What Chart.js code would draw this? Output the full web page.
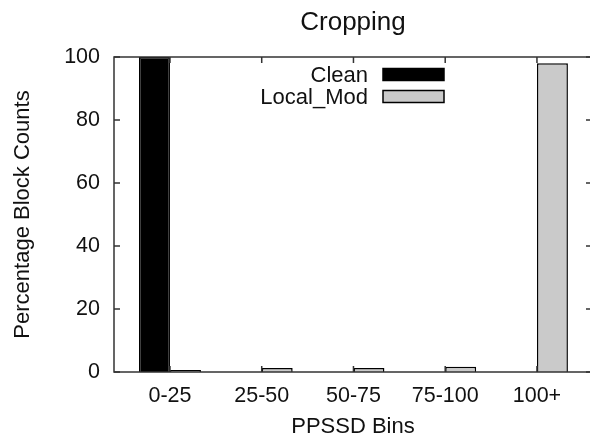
<!DOCTYPE html>
<html><head><meta charset="utf-8">
<script src="https://cdn.jsdelivr.net/npm/chart.js@4"></script>
<style>html,body{margin:0;padding:0;overflow:hidden;background:#fff}canvas{display:block}</style>
</head><body>
<canvas id="c" width="600" height="440"></canvas>
<script>
const categories = ['0-25', '25-50', '50-75', '75-100', '100+'];
const cleanValues = [100, 0, 0, 0, 0];
const localModValues = [0.6, 1.3, 1.3, 1.7, 98];
const yTicks = [0, 20, 40, 60, 80, 100];
const seriesNames = ['Clean', 'Local_Mod'];
const chartTitle = 'Cropping';
const xTitle = 'PPSSD Bins';
const yTitle = 'Percentage Block Counts';

const FONT = "'Liberation Sans', Arial, sans-serif";
const TEXT = '#111';
const F = { family: FONT, size: 22, lineHeight: 1.2 };
const FT = { family: FONT, size: 21.5, lineHeight: 1.2 };

const frame = {
  id: 'frame',
  afterDatasetsDraw(chart) {
    const { ctx, chartArea: a, scales: { x, y } } = chart;
    ctx.save();
    // title centred over the plot box
    ctx.fillStyle = TEXT;
    ctx.font = '26px ' + FONT;
    ctx.textAlign = 'center';
    ctx.textBaseline = 'middle';
    ctx.fillText(chartTitle, (a.left + a.right) / 2, 23);
    // border and inward tics (mirrored)
    ctx.strokeStyle = '#333';
    ctx.lineWidth = 1.5;
    ctx.strokeRect(a.left, a.top, a.right - a.left, a.bottom - a.top);
    ctx.beginPath();
    const t = 6;
    y.ticks.forEach(tk => {
      const py = y.getPixelForValue(tk.value);
      ctx.moveTo(a.left, py); ctx.lineTo(a.left + t, py);
      ctx.moveTo(a.right, py); ctx.lineTo(a.right - t, py);
    });
    x.ticks.forEach(tk => {
      const px = x.getPixelForValue(tk.value);
      ctx.moveTo(px, a.bottom); ctx.lineTo(px, a.bottom - t);
      ctx.moveTo(px, a.top); ctx.lineTo(px, a.top + t);
    });
    ctx.stroke();
    // gnuplot-style key: text right-aligned, sample box to the right
    ctx.font = '22px ' + FONT;
    ctx.textAlign = 'right';
    ctx.textBaseline = 'middle';
    chart.data.datasets.forEach((ds, i) => {
      const cy = a.top + 17.5 + i * 22;
      ctx.fillStyle = TEXT;
      ctx.fillText(ds.label, a.left + 254, cy + 1);
      const bx = a.left + 269, bw = 61, bh = 12;
      ctx.fillStyle = ds.backgroundColor;
      ctx.fillRect(bx, cy - bh / 2, bw, bh);
      ctx.strokeStyle = '#000';
      ctx.lineWidth = 1.5;
      ctx.strokeRect(bx, cy - bh / 2, bw, bh);
    });
    ctx.restore();
  }
};

new Chart(document.getElementById('c'), {
  type: 'bar',
  data: {
    datasets: [
      { label: seriesNames[0], data: cleanValues.map((v, i) => ({ x: i, y: v })),
        backgroundColor: '#000000', borderColor: '#000000', borderWidth: 1.5 },
      { label: seriesNames[1], data: localModValues.map((v, i) => ({ x: i, y: v })),
        backgroundColor: '#cacaca', borderColor: '#000000', borderWidth: 1.5 }
    ]
  },
  options: {
    responsive: false,
    animation: false,
    layout: { padding: { left: 0, right: 8, top: 57, bottom: 0 } },
    datasets: { bar: { categoryPercentage: 0.675, barPercentage: 1.0 } },
    plugins: {
      legend: { display: false },
      tooltip: { enabled: false },
      title: { display: false }
    },
    scales: {
      x: {
        type: 'linear', min: -0.61, max: 4.6, offset: false,
        grid: { display: false, drawTicks: false, offset: false },
        border: { display: false },
        afterBuildTicks: s => { s.ticks = categories.map((_, i) => ({ value: i })); },
        afterFit: s => { s.height = 68; },
        ticks: { color: TEXT, font: FT, padding: 11, maxRotation: 0, autoSkip: false,
                 callback: v => categories[v] },
        title: { display: true, text: xTitle, color: TEXT, font: F, padding: { top: 0, bottom: 0 } }
      },
      y: {
        min: 0, max: 100,
        grid: { display: false, drawTicks: false },
        border: { display: false },
        afterBuildTicks: s => { s.ticks = yTicks.map(v => ({ value: v })); },
        afterFit: s => { s.width = 114; },
        ticks: { color: TEXT, font: FT, padding: 14 },
        title: { display: true, text: yTitle, color: TEXT, font: F, padding: { top: 10 } }
      }
    }
  },
  plugins: [frame]
});
</script>
</body></html>
